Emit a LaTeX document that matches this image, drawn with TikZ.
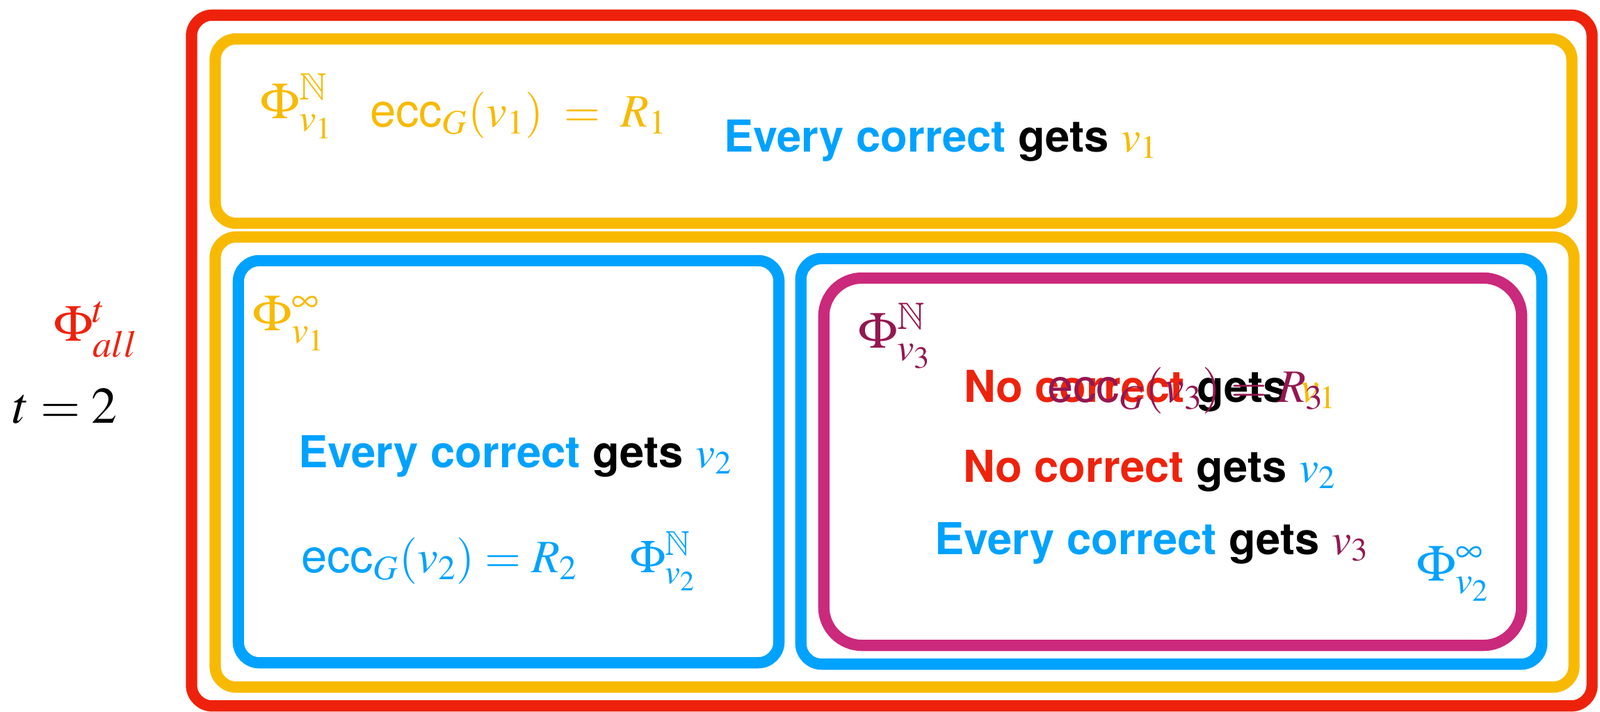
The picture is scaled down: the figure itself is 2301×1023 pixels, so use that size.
\documentclass[tikz,border=0pt]{standalone}
\usepackage{mathptmx}
\usepackage{amssymb}
\usepackage[no-math]{fontspec}
\setsansfont{TeX Gyre Heros}
\usetikzlibrary{decorations.pathmorphing}
\definecolor{cred}{HTML}{EE220C}
\definecolor{cyellow}{HTML}{F8BA00}
\definecolor{cblue}{HTML}{00A2FF}
\definecolor{cpink}{HTML}{CB297B}
\definecolor{cplum}{HTML}{941751}
\tikzset{
  frame/.style={draw, line width=4.6pt, rounded corners=0.3cm, inner sep=0pt, outer sep=0pt,
    postaction={draw, sharp corners, line width=1.4pt, decorate,
      decoration={random steps, segment length=2pt, amplitude=0.9pt}}},
  lbl/.style={inner sep=0pt, outer sep=0pt, anchor=base west},
  sanstxt/.style={lbl, font=\fontsize{18}{20}\selectfont\sffamily\bfseries},
  mathtxt/.style={lbl, font=\fontsize{19}{22}\selectfont},
  philbl/.style={lbl, font=\fontsize{21}{24}\selectfont},
}
\begin{document}
\begin{tikzpicture}[x=0.01cm, y=-0.01cm]
\useasboundingbox (0,0) rectangle (2301,1023);
% frames
\node[frame, draw=cred, minimum width=20.13cm, minimum height=9.93cm] (redbox) at (1282.5,518.5) {};
\node[frame, draw=cyellow, minimum width=19.50cm, minimum height=2.65cm] (ytop) at (1285,188.5) {};
\node[frame, draw=cyellow, minimum width=19.53cm, minimum height=6.47cm] (ybot) at (1286.5,664.5) {};
\node[frame, draw=cblue, minimum width=7.77cm, minimum height=5.78cm] (bleft) at (731.5,664) {};
\node[frame, draw=cblue, minimum width=10.65cm, minimum height=5.83cm] (bright) at (1684.5,663.5) {};
\node[frame, draw=cpink, rounded corners=0.55cm, minimum width=10.03cm, minimum height=5.28cm] (pbox) at (1686.5,664) {};
% left labels
\node[philbl, text=cred] (phiall) at (77,490) {$\Phi^{t}_{all}$};
\node[philbl, text=black] (teq) at (18,608) {$t=2$};
% top yellow box
\node[philbl, text=cyellow] (phiv1N) at (374,170) {$\Phi^{\mathbb{N}}_{v_1}$};
\node[mathtxt, text=cyellow] (ecc1) at (532,182) {$\textsf{ecc}_G(v_1) \;=\; R_1$};
\node[sanstxt] (every1) at (1041,218) {\textcolor{cblue}{Every correct} gets {\mdseries$\textcolor{cyellow}{v_1}$}};
% bottom yellow box
\node[philbl, text=cyellow] (phiv1inf) at (363,475) {$\Phi^{\infty}_{v_1}$};
% left blue box
\node[sanstxt] (every2) at (429,672) {\textcolor{cblue}{Every correct} gets {\mdseries$\textcolor{cblue}{v_2}$}};
\node[mathtxt, text=cblue] (ecc2) at (433,823) {$\textsf{ecc}_G(v_2) = R_2$};
\node[mathtxt, text=cblue] (phiv2N) at (906,823) {$\Phi^{\mathbb{N}}_{v_2}$};
% right blue box / pink box
\node[philbl, text=cplum] (phiv3N) at (1234,500) {$\Phi^{\mathbb{N}}_{v_3}$};
\node[sanstxt] (no1) at (1386,578) {\textcolor{cred}{No correct} gets {\mdseries$\textcolor{cyellow}{v_1}$}};
\node[mathtxt, text=cplum] (ecc3) at (1506,578) {$\textsf{ecc}_G(v_3) = R_3$};
\node[sanstxt] (no2) at (1385,693) {\textcolor{cred}{No correct} gets {\mdseries$\textcolor{cblue}{v_2}$}};
\node[sanstxt] (every3) at (1344,797) {\textcolor{cblue}{Every correct} gets {\mdseries$\textcolor{cplum}{v_3}$}};
\node[philbl, text=cblue] (phiv2inf) at (2037,835) {$\Phi^{\infty}_{v_2}$};
\end{tikzpicture}
\end{document}
